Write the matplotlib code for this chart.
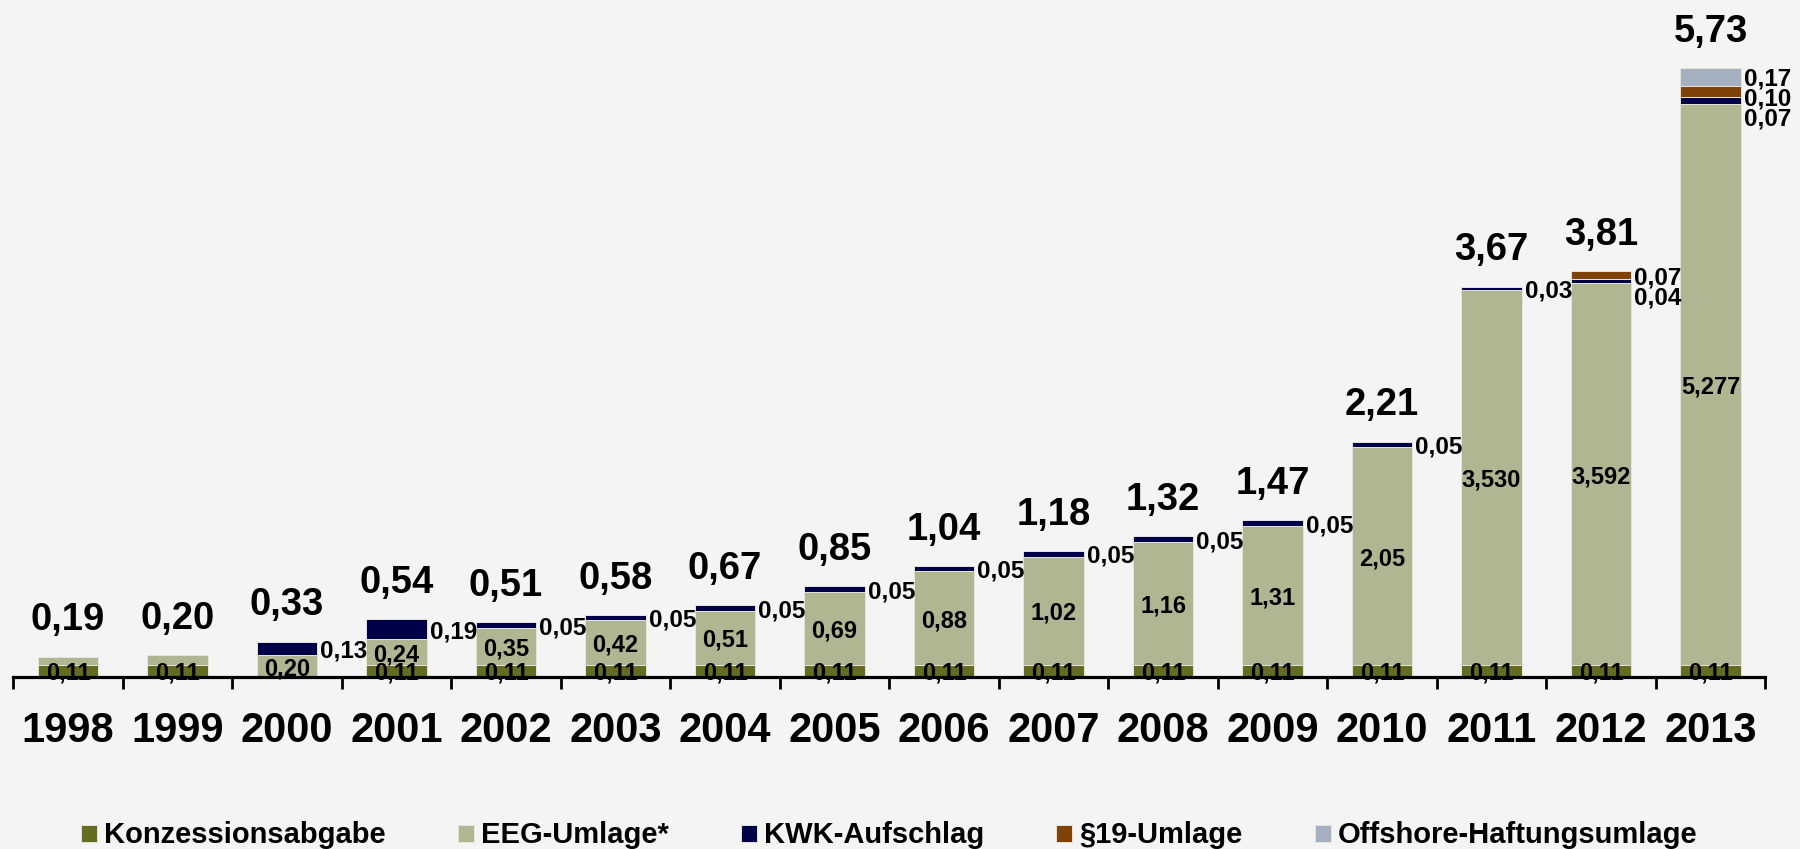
import matplotlib
matplotlib.use("Agg")
import matplotlib.pyplot as plt
import numpy as np

plt.rcParams['font.family'] = ['Liberation Sans', 'DejaVu Sans']
plt.rcParams['font.weight'] = 'bold'

years = ["1998", "1999", "2000", "2001", "2002", "2003", "2004", "2005",
         "2006", "2007", "2008", "2009", "2010", "2011", "2012", "2013"]
konzession = [0.11, 0.11, 0, 0.11, 0.11, 0.11, 0.11, 0.11,
              0.11, 0.11, 0.11, 0.11, 0.11, 0.11, 0.11, 0.11]
eeg = [0.08, 0.09, 0.20, 0.24, 0.35, 0.42, 0.51, 0.69,
       0.88, 1.02, 1.16, 1.31, 2.05, 3.530, 3.592, 5.277]
eeg_labels = ["", "", "0,20", "0,24", "0,35", "0,42", "0,51", "0,69",
              "0,88", "1,02", "1,16", "1,31", "2,05", "3,530", "3,592", "5,277"]
kwk = [0, 0, 0.13, 0.19, 0.05, 0.05, 0.05, 0.05,
       0.05, 0.05, 0.05, 0.05, 0.05, 0.03, 0.04, 0.07]
umlage19 = [0, 0, 0, 0, 0, 0, 0, 0, 0, 0, 0, 0, 0, 0, 0.07, 0.10]
offshore = [0, 0, 0, 0, 0, 0, 0, 0, 0, 0, 0, 0, 0, 0, 0, 0.17]

names = ["Konzessionsabgabe", "EEG-Umlage*", "KWK-Aufschlag", "§19-Umlage",
         "Offshore-Haftungsumlage"]
colors = ["#646C22", "#B0B592", "#000048", "#7F4309", "#A5B1C0"]
bg = "#F4F4F4"


def fmt(v):
    return ("%.2f" % v).replace(".", ",")


def main():
    fig = plt.figure(figsize=(18, 8.49), dpi=100, facecolor=bg)
    ax = fig.add_axes([13.3 / 1800, 1 - 676.7 / 849, 1752 / 1800, 676.7 / 849])
    ax.set_facecolor(bg)
    ymax = 676.7 / 106.3
    ax.set_ylim(0, ymax)
    ax.set_xlim(-0.5, 15.5)

    x = np.arange(len(years))
    w = 0.555
    series = [konzession, eeg, kwk, umlage19, offshore]
    bottom = np.zeros(len(years))
    handles = []
    bottoms = []
    for vals, col, name in zip(series, colors, names):
        vals = np.array(vals, dtype=float)
        b = ax.bar(x, vals, w, bottom=bottom, color=col, edgecolor="#E4E4DA",
                   linewidth=0.7, label=name)
        handles.append(b)
        bottoms.append(bottom.copy())
        bottom = bottom + vals
    totals = bottom

    # Werte im Balken
    for i in x:
        if konzession[i] > 0:
            ax.text(i, konzession[i] / 2, fmt(konzession[i]), ha="center",
                    va="center_baseline", fontsize=17, fontweight="bold", zorder=3)
        if eeg_labels[i]:
            ax.text(i, bottoms[1][i] + eeg[i] / 2, eeg_labels[i], ha="center",
                    va="center_baseline", fontsize=17, fontweight="bold", zorder=3)

    # Werte rechts neben dem Balken (KWK, §19, Offshore)
    gap = 20 / 676.7 * ymax
    for i in x:
        side = []
        for k in [4, 3, 2]:
            v = series[k][i]
            if v > 0:
                side.append((v, bottoms[k][i] + v / 2))
        yprev = 1e9
        for v, c in side:
            y = min(c, yprev - gap)
            ax.annotate(fmt(v), (i + w / 2, y), xytext=(2, 0),
                        textcoords="offset points", ha="left",
                        va="center_baseline", fontsize=17.5, fontweight="bold")
            yprev = y

    # Summen
    for i in x:
        ax.annotate(fmt(totals[i]), (i, totals[i]), xytext=(0, 19),
                    textcoords="offset points", ha="center", va="baseline",
                    fontsize=27.5, fontweight="bold")

    for s in ["top", "left", "right"]:
        ax.spines[s].set_visible(False)
    ax.spines["bottom"].set_linewidth(2.3)
    ax.spines["bottom"].set_zorder(10)
    ax.set_yticks([])
    ax.set_xticks(np.arange(-0.5, 16, 1))
    ax.set_xticklabels([])
    ax.tick_params(axis="x", which="major", length=8.5, width=2, direction="out")
    ax.set_xticks(x, years, minor=True)
    ax.tick_params(axis="x", which="minor", length=0, pad=25, labelsize=30)
    for lbl in ax.get_xticklabels(minor=True):
        lbl.set_fontweight("bold")

    ax.legend(handles=handles, loc="center", bbox_to_anchor=(0.494, 0.016),
              bbox_transform=fig.transFigure, ncol=5, frameon=False,
              prop={"size": 21, "weight": "bold"}, handlelength=0.55,
              handleheight=0.52, handletextpad=0.24, columnspacing=2.47,
              borderpad=0, borderaxespad=0)

    fig.savefig("out.png", dpi=100, facecolor=bg)
    plt.close()


if __name__ == "__main__":
    main()
